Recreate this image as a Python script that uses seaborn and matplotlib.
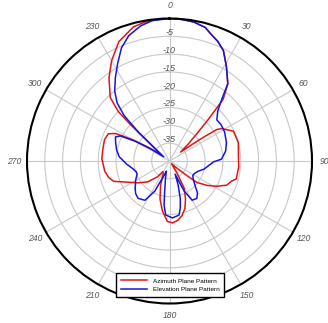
import numpy as np
import pandas as pd
import matplotlib
matplotlib.use("Agg")
import matplotlib.pyplot as plt
import seaborn as sns
from matplotlib.lines import Line2D

# ---- data (angle in degrees clockwise from top, level in dB) ----
az_deg = [0, 5, 10, 15, 18, 22, 26, 31, 37, 41, 43, 45, 48, 51, 54.6, 56.3, 58, 65, 75, 86, 95, 105, 108,
          113, 118, 123, 128, 130, 135, 142, 148, 152, 157, 162, 167, 172, 177, 182, 188, 194, 200, 206,
          212, 217, 226, 235, 244, 250, 255, 261, 272, 280, 288, 294, 297, 300, 303, 306, 310, 313, 314,
          317, 324, 330, 337, 345, 350, 355, 360]
az_db = [0, -0.1, -0.4, -1.2, -2.5, -3.8, -5.5, -9.0, -12.8, -17, -24, -29, -33, -36, -29.5, -24.1, -22.8,
         -20.2, -20, -20.6, -20.5, -20.6, -21.7, -22.6, -24.9, -27.4, -30.2, -33.6, -37.5, -39, -36, -31.2,
         -28.5, -26, -24.3, -23.2, -22.6, -23, -25.8, -29, -32.7, -36, -36.5, -34.5, -31.6, -29.3, -26.5,
         -23.3, -22.3, -21.6, -21, -21, -20.8, -21.2, -23, -28, -33, -37, -35, -25, -20, -15.6, -11.1,
         -7.5, -3.6, -1.0, -0.4, -0.1, 0]

el_deg = [0, 5, 10, 15, 18, 22, 26, 31, 37, 40, 44, 49, 55, 62, 72, 80, 88, 91, 97, 103, 110, 117, 122,
          128, 134, 139, 144, 150, 154, 157, 160, 164, 167, 170, 177, 184, 187, 189, 193, 197, 200, 206,
          212, 220, 226, 231, 240, 248, 252, 258, 266, 275, 282, 289, 294, 297, 300, 303, 306, 310, 313,
          315, 318, 322, 327, 332, 337, 342, 348, 353, 360]
el_db = [0, -0.1, -0.4, -1.2, -2.5, -3.8, -5.5, -9.0, -12.8, -17, -20.5, -22.4, -22.3, -22.5, -23.2, -24,
         -25.4, -27.6, -29, -30, -31.5, -32.2, -32.3, -31.5, -30, -28, -27, -27.3, -30.6, -36, -33, -29,
         -26.5, -24.6, -24, -24.8, -27.5, -31.3, -35, -37, -36, -30.6, -27, -26.3, -26.8, -27.6, -29,
         -30.2, -30.2, -29.5, -27.9, -25.8, -24.8, -24, -23.4, -24.5, -29, -34, -38, -36, -28, -22, -18,
         -15, -12.1, -9, -5.5, -3, -1.2, -0.3, 0]

series_names = ["Azimuth Plane Pattern", "Elevation Plane Pattern"]
series_colors = ["#e01515", "#1515e0"]

angle_ticks = [0, 30, 60, 90, 120, 150, 180, 210, 240, 270, 300, 330]
angle_labels = ["0", "30", "60", "90", "120", "150", "180", "210", "240", "270", "300", "230"]
ring_values = [-35, -30, -25, -20, -15, -10, -5]

df = pd.concat([
    pd.DataFrame({"theta": np.deg2rad(az_deg), "db": az_db, "series": series_names[0]}),
    pd.DataFrame({"theta": np.deg2rad(el_deg), "db": el_db, "series": series_names[1]}),
], ignore_index=True)

plt.rcParams['font.family'] = ['Liberation Sans', 'DejaVu Sans']

fig = plt.figure(figsize=(3.28, 3.23), dpi=100)
fig.patch.set_facecolor("white")
cx, cy, rad = 169.5, 161, 142.5
ax = fig.add_axes([(cx - rad) / 328, (323 - (cy + rad)) / 323, 2 * rad / 328, 2 * rad / 323],
                  projection="polar")
ax.set_theta_zero_location("N")
ax.set_theta_direction(-1)

sns.lineplot(data=df, x="theta", y="db", hue="series", units="series", estimator=None,
             sort=False, palette=dict(zip(series_names, series_colors)), linewidth=1.1,
             legend=False, ax=ax)

ax.set_ylim(-40, 0)
ax.set_yticks(ring_values)
ax.set_yticklabels([])
ax.set_xticks(np.deg2rad(angle_ticks))
ax.set_xticklabels(angle_labels)
ax.tick_params(axis="x", pad=-1.5, labelsize=6.2, colors="#555555")
for lbl in ax.get_xticklabels():
    lbl.set_style("italic")
ax.grid(True, color="#c8c8c8", linewidth=0.8)
ax.spines["polar"].set_color("black")
ax.spines["polar"].set_linewidth(1.5)
ax.set_xlabel("")
ax.set_ylabel("")

for v in ring_values:
    ax.text(0, v + 1.0, str(v), ha="center", va="center", fontsize=6.5, style="italic",
            color="#555555")

handles = [Line2D([], [], color=c, lw=1.1) for c in series_colors]
leg = fig.legend(handles, series_names, loc="center", bbox_to_anchor=(170 / 328, 1 - 285 / 323),
                 fontsize=4.6, frameon=True, fancybox=False, framealpha=1, edgecolor="black",
                 handlelength=4.2, handletextpad=0.8, borderpad=0.8, labelspacing=0.45)
leg.get_frame().set_linewidth(1.0)

fig.savefig("out.png", dpi=100, facecolor="white")
